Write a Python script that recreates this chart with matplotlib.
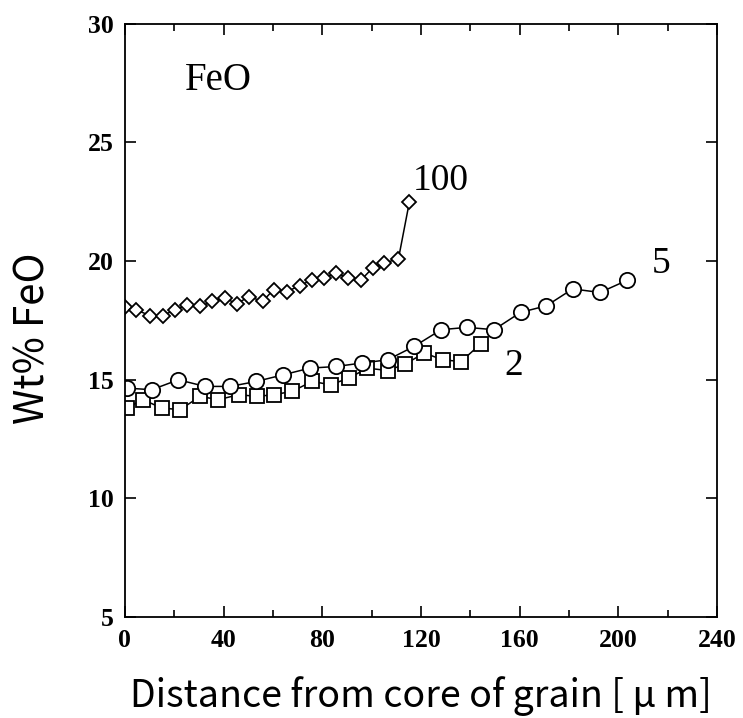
import matplotlib.pyplot as plt
from matplotlib.ticker import MultipleLocator

# FeO profiles
x_100 = [0, 4.7, 10.2, 15.3, 20.3, 25.3, 30.5, 35.5, 40.4, 45.4, 50.4, 55.8,
         60.3, 65.7, 70.8, 75.7, 80.7, 85.7, 90.6, 95.6, 100.4, 105.1, 110.9, 115.3]
y_100 = [18.04, 17.94, 17.69, 17.69, 17.94, 18.15, 18.08, 18.29, 18.43, 18.2, 18.5, 18.29,
         18.79, 18.71, 18.95, 19.2, 19.28, 19.49, 19.28, 19.18, 19.7, 19.91, 20.09, 22.47]

x_5 = [0.7, 10.9, 21.7, 32.5, 42.7, 53.3, 64.2, 75.0, 85.7, 96.3, 106.5,
       117.3, 128.2, 138.7, 149.6, 160.4, 170.9, 181.5, 192.6, 203.5]
y_5 = [14.64, 14.57, 14.99, 14.71, 14.71, 14.92, 15.2, 15.48, 15.55, 15.7, 15.83,
       16.4, 17.1, 17.2, 17.1, 17.83, 18.11, 18.82, 18.67, 19.18]

x_2 = [0.7, 7.4, 14.9, 22.4, 30.5, 37.9, 46.1, 53.6, 60.3, 67.8, 75.9, 83.4,
       90.8, 98.3, 106.5, 113.6, 121.4, 128.8, 136.3, 144.2]
y_2 = [13.8, 14.15, 13.8, 13.73, 14.29, 14.15, 14.36, 14.29, 14.36, 14.5, 14.92, 14.78,
       15.06, 15.48, 15.38, 15.65, 16.12, 15.83, 15.76, 16.5]

serif = 'Liberation Serif'
sans = ['Noto Sans CJK JP', 'DejaVu Sans']

fig = plt.figure(figsize=(7.43, 7.18), dpi=100)
ax = fig.add_axes([0.168, 0.141, 0.797, 0.826])

kw = dict(color='black', lw=1.1, markerfacecolor='white', markeredgecolor='black',
          markeredgewidth=1.3)
ax.plot(x_100, y_100, marker='D', markersize=7.5, **kw)
ax.plot(x_2, y_2, marker='s', markersize=10.5, **kw)
ax.plot(x_5, y_5, marker='o', markersize=11, **kw)

# curve labels
ax.text(128, 23.4, '100', fontsize=27, family=serif, ha='center', va='center')
ax.text(217.5, 19.9, '5', fontsize=27, family=serif, ha='center', va='center')
ax.text(157.5, 15.6, '2', fontsize=27, family=serif, ha='center', va='center')
ax.text(38, 27.6, 'FeO', fontsize=28, family=serif, ha='center', va='center')

ax.set_xlim(0, 240)
ax.set_ylim(5, 30)
ax.xaxis.set_major_locator(MultipleLocator(40))
ax.xaxis.set_minor_locator(MultipleLocator(20))
ax.yaxis.set_major_locator(MultipleLocator(5))
ax.tick_params(which='both', direction='in', top=True, right=True, width=1.2)
ax.tick_params(which='major', length=8, labelsize=18.5)
ax.tick_params(axis='x', which='major', pad=9)
ax.tick_params(axis='y', which='major', pad=8)
ax.tick_params(which='minor', length=5)
for lab in ax.get_xticklabels() + ax.get_yticklabels():
    lab.set_family(serif)
    lab.set_fontweight('bold')
for s in ax.spines.values():
    s.set_linewidth(1.3)

ax.set_xlabel('Distance from core of grain [ μ m]', fontsize=27, family=sans)
ax.set_ylabel('Wt% FeO', fontsize=29, family=sans)
ax.xaxis.set_label_coords(0.5, -0.1)
ax.yaxis.set_label_coords(-0.12, 0.47)

fig.savefig('out.png', dpi=100)
